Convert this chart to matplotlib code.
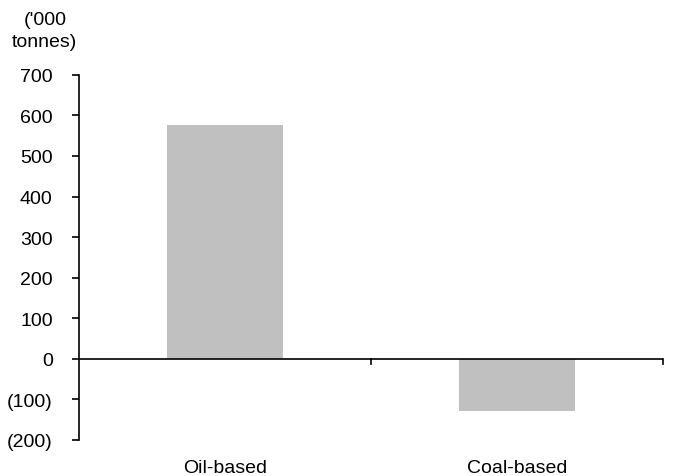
import matplotlib.pyplot as plt

# Data
categories = ["Oil-based", "Coal-based"]
values = [576, -128]
y_ticks = [-200, -100, 0, 100, 200, 300, 400, 500, 600, 700]
y_labels = ["(200)", "(100)", "0", "100", "200", "300", "400", "500", "600", "700"]

plt.rcParams["font.family"] = ["Liberation Sans", "DejaVu Sans"]

fig = plt.figure(figsize=(7, 4.77), dpi=100)
ax = fig.add_axes([0.113, 0.0755, 0.834, 0.7655])

x = range(len(categories))
ax.bar(x, values, width=0.4, color="#C0C0C0", zorder=2)

ax.set_xlim(-0.5, len(categories) - 0.5)
ax.set_ylim(-200, 700)
ax.set_yticks(y_ticks)
ax.set_yticklabels(y_labels, fontsize=14)
ax.tick_params(axis="y", direction="out", length=5, width=1.2, pad=14)

# categories: labels without ticks; zero line with ticks at boundaries
ax.set_xticks([])
for i, c in enumerate(categories):
    ax.text(i, -248, c, ha="center", va="top", fontsize=14)

ax.axhline(0, color="black", lw=1.2, zorder=3)
for b in [0.5, 1.5]:
    ax.plot([b, b], [0, -13], color="black", lw=1.2, clip_on=False, zorder=3)

for s in ["top", "right", "bottom"]:
    ax.spines[s].set_visible(False)
ax.spines["left"].set_linewidth(1.2)

fig.text(0.064, 0.975, "('000\ntonnes)", ha="center", va="top", fontsize=14, linespacing=1.4)

fig.savefig("out.png", dpi=100)
